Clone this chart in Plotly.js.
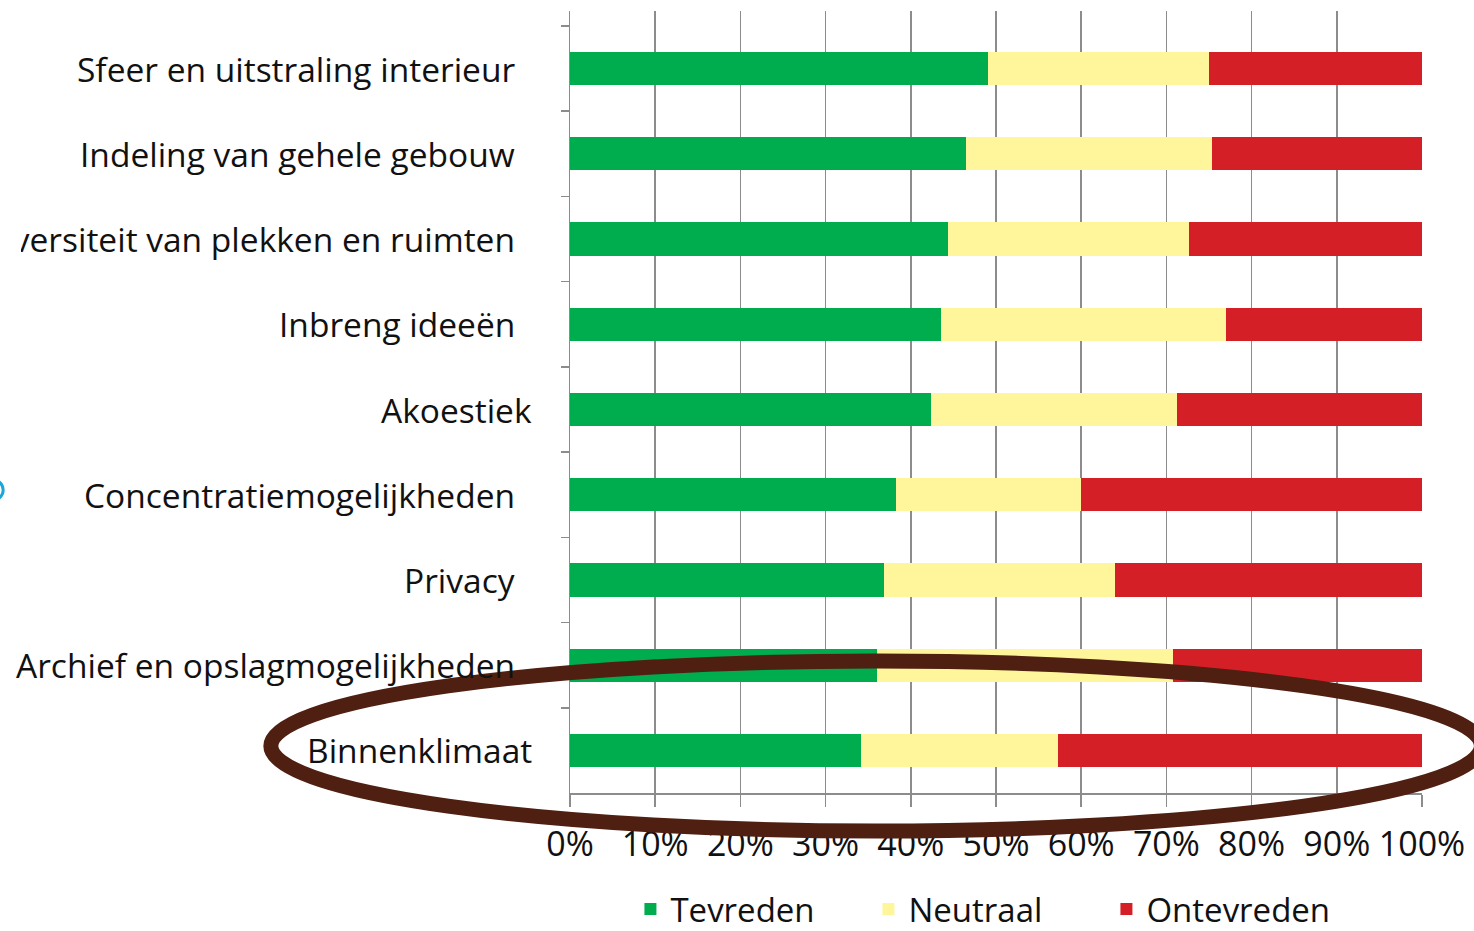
<!DOCTYPE html>
<html>
<head>
<meta charset="utf-8">
<script src="https://cdn.plot.ly/plotly-3.0.1.min.js"></script>
<style>
  html, body { margin: 0; padding: 0; background: #ffffff; }
  #chart { width: 1474px; height: 931px; }
</style>
</head>
<body>
<div id="chart"></div>
<script>
// ---- Data ----
const categories = [
  "Sfeer en uitstraling interieur",
  "Indeling van gehele gebouw",
  "Diversiteit van plekken en ruimten",
  "Inbreng ideeën",
  "Akoestiek",
  "Concentratiemogelijkheden",
  "Privacy",
  "Archief en opslagmogelijkheden",
  "Binnenklimaat"
];
const seriesNames = ["Tevreden", "Neutraal", "Ontevreden"];
const tevreden   = [49.1, 46.5, 44.4, 43.6, 42.4, 38.3, 36.8, 36.0, 34.2];
const neutraal   = [25.9, 28.9, 28.3, 33.4, 28.9, 21.7, 27.2, 34.8, 23.1];
const ontevreden = [25.0, 24.6, 27.3, 23.0, 28.7, 40.0, 36.0, 29.2, 42.7];
const xTickValues = [0, 10, 20, 30, 40, 50, 60, 70, 80, 90, 100];
const xTickLabels = ["0%", "10%", "20%", "30%", "40%", "50%", "60%", "70%", "80%", "90%", "100%"];

// ---- Styling / geometry ----
const W = 1474, H = 931;
const L = 569.5, R = 1422.5, T = 11, B = 793;
const PW = R - L, PH = B - T;
const px2x = p => (p - L) / PW;
const py2y = p => (B - p) / PH;
const colors = ["#00ad4e", "#fff59b", "#d51f26"];
const FONT = "Open Sans, Lato, sans-serif";
const TEXT = "#111111";
const labelRightPx = { "Akoestiek": 533, "Binnenklimaat": 533 };
const defaultLabelRight = 516;

const values = [tevreden, neutraal, ontevreden];
const traces = seriesNames.map((name, i) => ({
  type: "bar",
  orientation: "h",
  name: name,
  x: values[i],
  y: categories,
  marker: { color: colors[i], line: { width: 0 } },
  width: 0.39,
  hoverinfo: "x+y+name"
}));

const annotations = categories.map(c => ({
  xref: "paper", yref: "y",
  x: px2x(labelRightPx[c] !== undefined ? labelRightPx[c] : defaultLabelRight),
  y: c,
  text: c,
  showarrow: false,
  xanchor: "right", yanchor: "middle",
  font: { family: FONT, size: 33.5, color: TEXT }
}));
// white patch: the reference picture is cropped on its left edge
annotations.push({
  xref: "paper", yref: "paper",
  x: px2x(-2), y: py2y(240),
  xanchor: "left", yanchor: "middle",
  text: " ", showarrow: false,
  width: 22, height: 46,
  bgcolor: "#ffffff", borderpad: 0, borderwidth: 0,
  font: { family: FONT, size: 10, color: "#ffffff" }
});

const shapes = [
  // brown hand-drawn ellipse around Binnenklimaat
  { type: "circle", xref: "paper", yref: "paper", layer: "above",
    x0: px2x(270), x1: px2x(1482), y0: py2y(661), y1: py2y(831),
    line: { color: "#4f1f11", width: 15 }, fillcolor: "rgba(0,0,0,0)" },
  // small cyan fragment at the left edge
  { type: "circle", xref: "paper", yref: "paper", layer: "above",
    x0: px2x(-40), x1: px2x(2), y0: py2y(476), y1: py2y(504),
    line: { color: "#1aa7d8", width: 3 }, fillcolor: "rgba(0,0,0,0)" }
];

const layout = {
  width: W, height: H,
  margin: { l: L, r: W - R, t: T, b: H - B, pad: 0, autoexpand: false },
  paper_bgcolor: "#ffffff",
  plot_bgcolor: "#ffffff",
  barmode: "stack",
  showlegend: true,
  legend: {
    orientation: "h",
    xref: "paper", yref: "paper",
    x: px2x(630), xanchor: "left",
    y: py2y(937), yanchor: "bottom",
    font: { family: FONT, size: 33, color: TEXT },
    entrywidth: 193, entrywidthmode: "pixels",
    traceorder: "normal",
    bgcolor: "rgba(0,0,0,0)"
  },
  xaxis: {
    range: [0, 100],
    tickmode: "array",
    tickvals: xTickValues,
    ticktext: xTickLabels,
    showgrid: true, gridcolor: "#8c8c8c", gridwidth: 1.5,
    showline: true, linecolor: "#8c8c8c", linewidth: 1.5,
    ticks: "outside", ticklen: 12, tickwidth: 1.5, tickcolor: "#8c8c8c",
    ticklabelstandoff: 9,
    tickfont: { family: FONT, size: 34, color: TEXT },
    zeroline: false,
    fixedrange: true
  },
  yaxis: {
    type: "category",
    categoryorder: "array",
    categoryarray: categories,
    range: [8.5, -0.676],
    showgrid: false,
    showline: true, linecolor: "#8c8c8c", linewidth: 1.5,
    ticks: "outside", ticklen: 8, tickwidth: 1.5, tickcolor: "#8c8c8c",
    tickson: "boundaries",
    showticklabels: false,
    zeroline: false,
    fixedrange: true
  },
  annotations: annotations,
  shapes: shapes
};

Plotly.newPlot("chart", traces, layout, { displayModeBar: false, staticPlot: true });
</script>
</body>
</html>
